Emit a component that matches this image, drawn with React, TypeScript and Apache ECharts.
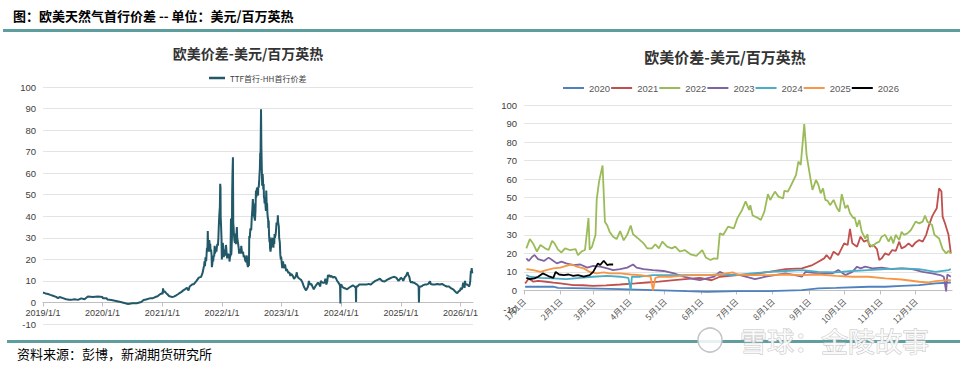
import React, { useEffect, useRef } from "react";
import * as echarts from "echarts";

// ---- data: [day of year (0 = Jan 1), spread USD/MMBtu] ----
const s2019: [number, number][] = [[0,4.6],[15,4.2],[31,3.9],[45,3.5],[61,3.1],[80,2.6],[92,2.0],[102,2.5],[122,2.0],[142,1.5],[160,1.3],[173,1.2],[193,1.5],[214,1.2],[234,1.9],[254,1.5],[275,2.8],[305,2.5],[336,2.8],[364,2.5]];
const s2020: [number, number][] = [[1,2.0],[25,2.0],[29,1.4],[54,1.1],[82,0.7],[110,0.2],[139,-0.4],[156,-0.7],[182,-0.4],[209,-0.4],[237,0.2],[251,1.1],[266,1.4],[294,2.0],[308,2.0],[322,2.5],[337,2.9],[351,3.8],[364,4.3]];
const s2021: [number, number][] = [[1,3.8],[4,6.5],[8,4.7],[12,5.2],[19,4.7],[25,4.2],[31,3.8],[42,2.9],[50,2.8],[59,2.5],[70,2.7],[82,3.2],[95,3.8],[105,4.3],[115,4.8],[128,5.6],[140,6.2],[150,6.8],[160,5.5],[167,7.4],[182,8.3],[194,8.6],[209,10],[223,11.5],[237,11.9],[246,13.7],[251,15.5],[256,17.3],[258,19.1],[261,16.8],[264,20.9],[268,19.1],[273,25.4],[276,24.5],[278,33.2],[280,25.4],[284,23.6],[287,29],[290,26.3],[293,27.2],[295,23.6],[298,24.5],[301,22.3],[303,16.4],[305,17.3],[308,20],[311,19.1],[314,21.8],[317,21.3],[320,26.3],[322,22.7],[325,23.6],[328,25.4],[331,23.6],[334,25.9],[337,27.2],[340,26.3],[343,30],[345,34.4],[348,39.8],[350,42.2],[352,44.3],[354,55.1],[356,53.3],[357,39.8],[359,36.2],[362,30],[364,20]];
const s2022: [number, number][] = [[2,22.7],[5,27.7],[8,25],[11,21],[14,24.5],[18,22.7],[21,21.8],[24,26.7],[26,25.4],[29,22],[32,20.5],[35,22.7],[39,21.8],[44,22.3],[46,19],[49,21],[52,21.8],[55,39],[56,22],[58,23.6],[61,30],[62,49],[64,58.7],[67,67.4],[69,37],[71,35],[73,31.7],[76,29],[79,27.7],[82,32],[85,27],[88,30],[91,35],[93,30.3],[98,27.7],[102,25.4],[105,22.7],[109,22.7],[112,24.9],[115,22.7],[118,26.3],[122,23.6],[126,22.7],[129,23.6],[133,21],[137,21.8],[142,19.5],[147,18.7],[152,21.8],[155,17.8],[159,16.4],[162,17.3],[165,17],[167,30.8],[170,30],[174,34.4],[179,33.5],[182,39],[186,43.4],[189,48],[192,43.4],[193,46],[195,40.4],[199,39.3],[202,38],[205,42.5],[208,51.9],[210,48.8],[214,53.3],[217,50.6],[221,49.7],[222,53.7],[225,53.3],[228,57],[232,62.3],[234,69.5],[236,67.7],[239,89.7],[241,73],[244,61.4],[246,54.2],[249,59.6],[251,57],[253,52.4],[255,55],[257,48.8],[259,48.3],[261,46],[264,48.8],[267,44.3],[269,42.5],[271,51.9],[274,44.3],[276,46],[278,41.6],[281,38.9],[282,39.3],[284,34.4],[286,38],[288,31.7],[291,28],[293,30.3],[294,25.4],[297,23.6],[300,25.4],[303,26.3],[305,29],[308,30],[311,26.3],[313,29],[315,25.4],[317,30],[320,27.2],[322,31.7],[324,30],[327,30.8],[330,32.6],[334,37.1],[337,36.2],[340,37.1],[342,40.4],[344,37.1],[348,35.3],[350,30],[354,28],[357,22.3],[360,20],[362,21.3],[364,20]];
const s2023: [number, number][] = [[2,17.3],[4,15.9],[7,18.2],[9,19.1],[12,16.9],[17,15.9],[21,17.7],[24,16.4],[28,14.6],[32,15.5],[36,14.6],[42,13.7],[48,14],[54,12.3],[59,13.3],[65,12.8],[71,11.9],[76,11],[82,11.5],[88,12.3],[93,14],[96,12.3],[102,11.5],[110,11],[119,10.5],[128,9.2],[136,7.4],[145,6.1],[150,5.6],[156,6.5],[162,7.4],[167,10],[173,8.3],[182,8.6],[189,7.4],[197,6.1],[206,7.4],[214,8.3],[223,9.2],[231,8.3],[237,7.4],[240,10],[251,9.2],[263,9.2],[268,11],[274,8.3],[280,10],[284,12.8],[287,11.9],[291,12.8],[297,11.9],[305,12.3],[314,11.5],[322,11.9],[331,11.5],[340,10],[348,9.2],[355,8.3],[358,7.4],[360,-0.5],[361,8.6],[364,7.4]];
const s2024: [number, number][] = [[2,8.3],[5,7.4],[14,6.8],[25,6.5],[36,6.1],[48,6.8],[59,7.4],[71,7.9],[82,7.4],[89,6.8],[91,0.2],[92,7.4],[99,7.4],[110,8.3],[122,8.3],[133,8.3],[145,8.3],[156,8.3],[167,8.6],[182,8.3],[194,9.2],[209,10],[223,10.5],[237,11],[251,10],[266,9.7],[280,10.5],[294,11],[308,11.5],[322,11.9],[337,11.5],[351,10],[362,11],[364,11.5]];
const s2025: [number, number][] = [[2,11.5],[8,11],[14,10],[19,11],[25,11.9],[31,12.3],[36,13.3],[41,14],[45,12.8],[51,11.9],[56,10],[62,9.2],[68,9.7],[73,9.2],[82,9.2],[91,8.6],[99,8.3],[108,7.4],[110,0.0],[112,6.8],[116,7.4],[125,7.4],[133,7.9],[145,8.3],[156,8.3],[167,8.6],[178,9.8],[182,8.6],[194,8.3],[209,8.3],[223,8.6],[237,8.3],[251,8.6],[266,7.9],[280,7.4],[294,7.4],[308,6.5],[322,5.9],[337,4.7],[345,4.3],[351,5],[362,5.6],[364,5.6]];
const s2026: [number, number][] = [[2,6.8],[5,6.1],[9,6.5],[12,7.4],[16,9.2],[19,8.3],[22,7.4],[25,6.8],[27,10],[30,8.6],[34,8.3],[38,8.6],[42,7.9],[46,8.3],[51,7.4],[56,8.3],[59,10],[63,14.6],[65,13.7],[68,16],[71,13.7],[73,14],[76,14]];

const allYears = [2019, 2020, 2021, 2022, 2023, 2024, 2025, 2026];
const allSeries = [s2019, s2020, s2021, s2022, s2023, s2024, s2025, s2026];

const rightNames = ["2020", "2021", "2022", "2023", "2024", "2025", "2026"];
const rightSeries = [s2020, s2021, s2022, s2023, s2024, s2025, s2026];
const rightColors = ["#4f81bd", "#c0504d", "#9bbb59", "#8064a2", "#4bacc6", "#f79646", "#000000"];

const monthStarts = [0, 31, 59, 90, 120, 151, 181, 212, 243, 273, 304, 334];
const monthLabels = ["1月1日", "2月1日", "3月1日", "4月1日", "5月1日", "6月1日", "7月1日", "8月1日", "9月1日", "10月1日", "11月1日", "12月1日"];

const leftName = "TTF首行-HH首行价差";
const chartTitle = "欧美价差-美元/百万英热";
const headerText = "图：欧美天然气首行价差 -- 单位：美元/百万英热";
const footerText = "资料来源：彭博，新湖期货研究所";

const DAY_MS = 86400000;
const Y_MIN = -10;
const Y_MAX = 100;

export default function App() {
  const ref = useRef<HTMLDivElement>(null);
  useEffect(() => {
    document.body.style.margin = "0";
    const chart = echarts.init(ref.current!, null, { renderer: "svg" });
    const font = "'Noto Sans CJK SC', 'Noto Sans', sans-serif";
    const numFont = "'Liberation Sans', Arial, sans-serif";

    const leftData: [number, number][] = [];
    allYears.forEach((y, i) => {
      const base = Date.UTC(y, 0, 1);
      allSeries[i].forEach(([d, v]) => leftData.push([base + d * DAY_MS, v]));
    });
    const yearTicks = allYears.map((y) => Date.UTC(y, 0, 1));

    // grid geometry (px)
    const gL = { left: 43, right: 487, top: 87, bottom: 46 };
    const gR = { left: 524, right: 8, top: 105, bottom: 61 };
    const zeroOffset = (g: { top: number; bottom: number }) => {
      const h = 370 - g.top - g.bottom;
      return -((0 - Y_MIN) / (Y_MAX - Y_MIN)) * h;
    };

    const yAxisCommon = {
      type: "value",
      min: Y_MIN,
      max: Y_MAX,
      interval: 10,
      axisLine: { show: false },
      axisTick: { show: false },
      axisLabel: { fontSize: 9.5, lineHeight: 10, color: "#404040", margin: 7, fontFamily: numFont },
      splitLine: { lineStyle: { color: "#e4e4e4", width: 1 } },
    };

    const teal = "#5e9e9e";

    chart.setOption({
      animation: false,
      backgroundColor: "#ffffff",
      textStyle: { fontFamily: font },
      legend: [
        {
          data: [leftName],
          left: 204,
          top: 66,
          icon: "rect",
          itemWidth: 16,
          itemHeight: 2.5,
          textStyle: { fontSize: 8, color: "#404040", fontFamily: font, lineHeight: 14 },
        },
        {
          data: rightNames,
          left: 558,
          top: 76,
          icon: "rect",
          itemWidth: 21,
          itemHeight: 2,
          itemGap: 1,
          textStyle: { fontSize: 9.5, color: "#595959", fontFamily: numFont, lineHeight: 14 },
        },
      ],
      grid: [
        { ...gL, outerBoundsMode: "none" },
        { ...gR, outerBoundsMode: "none" },
      ],
      xAxis: [
        {
          type: "value",
          gridIndex: 0,
          min: Date.UTC(2019, 0, 1),
          max: Date.UTC(2026, 2, 18),
          offset: zeroOffset(gL),
          axisLine: { onZero: false, lineStyle: { color: "#bfbfbf" } },
          axisTick: { show: true, customValues: yearTicks, length: 4, lineStyle: { color: "#bfbfbf" } },
          axisLabel: {
            customValues: yearTicks,
            formatter: (v: number) => `${new Date(v).getUTCFullYear()}/1/1`,
            fontSize: 9,
            lineHeight: 10,
            color: "#404040",
            margin: 6,
            fontFamily: numFont,
          },
          splitLine: { show: false },
        },
        {
          type: "value",
          gridIndex: 1,
          min: 0,
          max: 365,
          offset: zeroOffset(gR),
          axisLine: { onZero: false, lineStyle: { color: "#bfbfbf" } },
          axisTick: { show: true, customValues: monthStarts, length: 4, lineStyle: { color: "#bfbfbf" } },
          axisLabel: {
            customValues: monthStarts,
            formatter: (v: number) => monthLabels[monthStarts.indexOf(v)] ?? "",
            rotate: 45,
            fontSize: 8.5,
            lineHeight: 10,
            color: "#595959",
            margin: 9,
            fontFamily: font,
          },
          splitLine: { show: false },
        },
      ],
      yAxis: [
        { ...yAxisCommon, gridIndex: 0 },
        { ...yAxisCommon, gridIndex: 1 },
      ],
      series: [
        {
          type: "line",
          name: leftName,
          xAxisIndex: 0,
          yAxisIndex: 0,
          data: leftData,
          symbol: "none",
          lineStyle: { width: 2, color: "#215968" },
          itemStyle: { color: "#215968" },
        },
        ...rightNames.map((n, i) => ({
          type: "line",
          name: n,
          xAxisIndex: 1,
          yAxisIndex: 1,
          data: rightSeries[i],
          symbol: "none",
          lineStyle: { width: 1.8, color: rightColors[i] },
          itemStyle: { color: rightColors[i] },
        })),
      ],
      graphic: [
        {
          type: "text",
          x: 13,
          y: 15,
          style: { text: headerText, fontSize: 13, fontWeight: "bold", fill: "#000", fontFamily: font, textVerticalAlign: "middle" },
        },
        { type: "rect", shape: { x: 3, y: 29, width: 957, height: 3 }, style: { fill: teal } },
        { type: "rect", shape: { x: 7, y: 340, width: 953, height: 3 }, style: { fill: teal } },
        {
          type: "text",
          x: 17,
          y: 353,
          style: { text: footerText, fontSize: 13, fill: "#000", fontFamily: font, textVerticalAlign: "middle" },
        },
        {
          type: "text",
          x: 248,
          y: 53,
          style: { text: chartTitle, fontSize: 14, fontWeight: "bold", fill: "#333", fontFamily: font, textAlign: "center", textVerticalAlign: "middle" },
        },
        {
          type: "text",
          x: 725,
          y: 56,
          style: { text: chartTitle, fontSize: 15, fontWeight: "bold", fill: "#333", fontFamily: font, textAlign: "center", textVerticalAlign: "middle" },
        },
        {
          type: "circle",
          z: 100,
          shape: { cx: 710, cy: 340, r: 12 },
          style: { fill: "rgba(255,255,255,0.85)", stroke: "#c4c4c4", lineWidth: 1.5 },
        },
        {
          type: "text",
          z: 100,
          x: 740,
          y: 340,
          style: {
            text: "雪球：金陵故事",
            fontSize: 27,
            fill: "rgba(255,255,255,0.85)",
            stroke: "#c4c4c4",
            lineWidth: 1,
            fontFamily: font,
            textVerticalAlign: "middle",
          },
        },
      ],
    });
    return () => chart.dispose();
  }, []);
  return <div ref={ref} style={{ width: 960, height: 370 }} />;
}
